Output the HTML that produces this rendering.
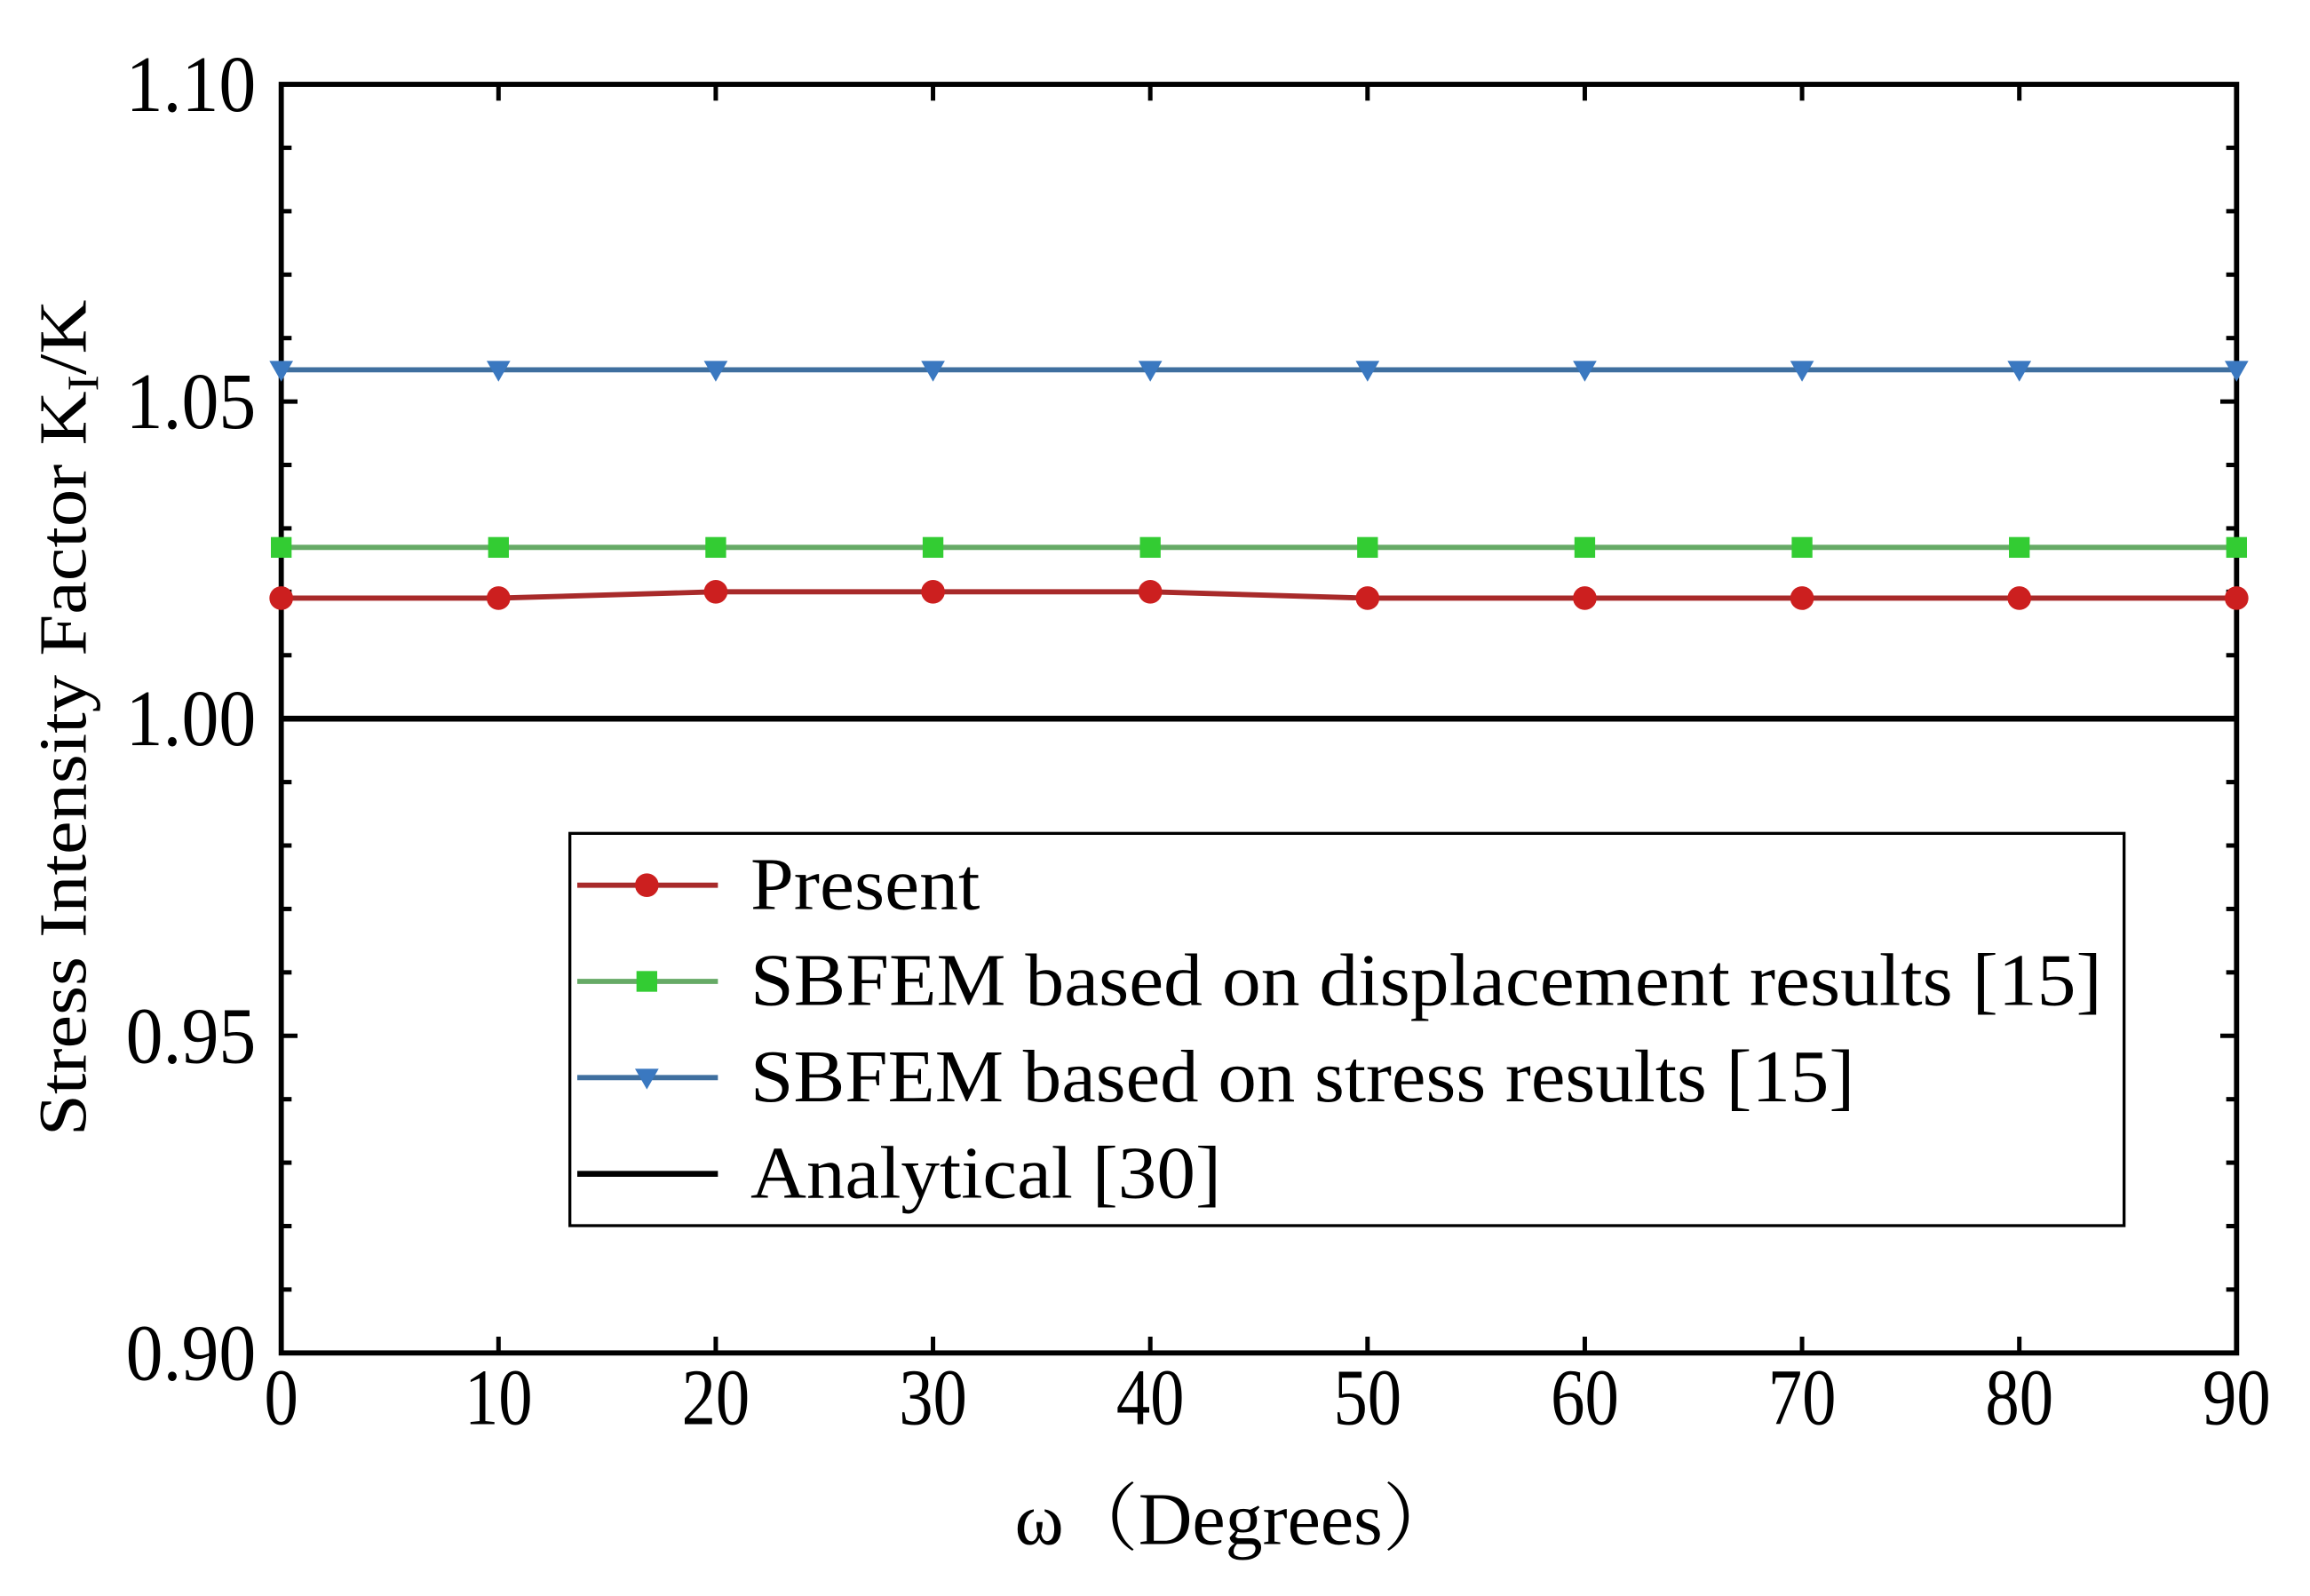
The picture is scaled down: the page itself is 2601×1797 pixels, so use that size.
<!DOCTYPE html>
<html><head><meta charset="utf-8"><style>html,body{margin:0;padding:0;background:#fff}svg{display:block}</style></head>
<body>
<svg id="chart" width="2601" height="1797" viewBox="0 0 1560.6 1078.2" xmlns="http://www.w3.org/2000/svg" font-family="'Liberation Serif', serif">
<rect width="1560.6" height="1078.2" fill="#fff"/>
<g id="plot"></g>
</svg>
<script>
const categories = [0,10,20,30,40,50,60,70,80,90];
const presentValues = [1.019,1.019,1.020,1.020,1.020,1.019,1.019,1.019,1.019,1.019];
const dispValues = [1.027,1.027,1.027,1.027,1.027,1.027,1.027,1.027,1.027,1.027];
const stressValues = [1.055,1.055,1.055,1.055,1.055,1.055,1.055,1.055,1.055,1.055];
const analyticalValues = [1.0,1.0];
const analyticalX = [0,90];
const yTicks = ["0.90","0.95","1.00","1.05","1.10"];
const xTicks = ["0","10","20","30","40","50","60","70","80","90"];

const L=190,R=1511,T=57,B=914;
const xs=v=>L+(v-0)/90*(R-L);
const ys=v=>B-(v-0.9)/0.2*(B-T);
const NS="http://www.w3.org/2000/svg";
const g=document.getElementById('plot');
function mk(tag,attrs,parent){const e=document.createElementNS(NS,tag);for(const k in attrs)e.setAttribute(k,attrs[k]);(parent||g).appendChild(e);return e;}

const frame=mk('rect',{x:L,y:T,width:R-L,height:B-T,fill:'none',stroke:'#000','stroke-width':3.5});



for(let i=0;i<=20;i++){
  const v=0.9+i*0.01, y=ys(v), len=(i%5===0)?11:7;
  const t1=mk('line',{x1:L,x2:L+len,y1:y,y2:y,stroke:'#000','stroke-width':3});
  
  
  const t2=mk('line',{x1:R,x2:R-len,y1:y,y2:y,stroke:'#000','stroke-width':3});
  
  
}
yTicks.forEach(s=>{
  const t=mk('text',{x:173,y:ys(parseFloat(s))+18,'text-anchor':'end','font-size':54,textLength:88,lengthAdjust:'spacingAndGlyphs'});
  t.textContent=s;
  
  
});
xTicks.forEach(s=>{
  const x=xs(parseFloat(s));
  const a=mk('line',{x1:x,x2:x,y1:B,y2:B-11,stroke:'#000','stroke-width':3});
  
  
  const b=mk('line',{x1:x,x2:x,y1:T,y2:T+11,stroke:'#000','stroke-width':3});
  
  
  const t=mk('text',{x:x,y:B+48,'text-anchor':'middle','font-size':54,textLength:s.length*23,lengthAdjust:'spacingAndGlyphs'});
  t.textContent=s;
  
  
});

const an=mk('polyline',{points:analyticalX.map((x,i)=>xs(x)+','+ys(analyticalValues[i])).join(' '),fill:'none',stroke:'#000','stroke-width':4});



function series(vals,color,lineColor,marker,name){
  const pl=mk('polyline',{points:categories.map((c,i)=>xs(c)+','+ys(vals[i])).join(' '),fill:'none',stroke:lineColor,'stroke-width':3.5});
  
  
  categories.forEach((c,i)=>{
    const x=xs(c),y=ys(vals[i]);let m;
    if(marker==='circle')m=mk('circle',{cx:x,cy:y,r:8,fill:color});
    else if(marker==='square')m=mk('rect',{x:x-7,y:y-7,width:14,height:14,fill:color});
    else m=mk('polygon',{points:`${x-8},${y-6} ${x+8},${y-6} ${x},${y+8}`,fill:color});
    
    
  });
}
series(stressValues,'#3a78c0','#3f6f9f','tri','stress-results');
series(dispValues,'#33cc33','#66aa66','square','displacement-results');
series(presentValues,'#cc1f1f','#a82a2a','circle','present');

const lg=mk('g',{});


const box=mk('rect',{x:385,y:563,width:1050,height:265,fill:'#fff',stroke:'#000','stroke-width':2},lg);


const entries=[
 ['Present','#a82a2a','#cc1f1f','circle',155],
 ['SBFEM based on displacement results [15]','#66aa66','#33cc33','square',913],
 ['SBFEM based on stress results [15]','#3f6f9f','#3a78c0','tri',746],
 ['Analytical [30]','#000',null,null,318]
];
entries.forEach((e,i)=>{
  const y=598+i*65;
  const ent=mk('g',{},lg);
  
  
  mk('line',{x1:390,x2:485,y1:y,y2:y,stroke:e[1],'stroke-width':e[3]?3.5:4},ent);
  const x=437;
  if(e[3]==='circle')mk('circle',{cx:x,cy:y,r:8,fill:e[2]},ent);
  else if(e[3]==='square')mk('rect',{x:x-7,y:y-7,width:14,height:14,fill:e[2]},ent);
  else if(e[3]==='tri')mk('polygon',{points:`${x-8},${y-6} ${x+8},${y-6} ${x},${y+8}`,fill:e[2]},ent);
  const t=mk('text',{x:507,y:y+16,'font-size':50,textLength:e[4],lengthAdjust:'spacingAndGlyphs'},ent);
  t.textContent=e[0];
});

const xt=mk('text',{x:835,y:1043,'text-anchor':'middle','font-size':50,'font-family':"'Liberation Serif','Noto Serif CJK SC',serif",textLength:299,lengthAdjust:'spacingAndGlyphs'});
xt.textContent='ω（Degrees）';


const yt=mk('text',{transform:'translate(58,485) rotate(-90)','text-anchor':'middle','font-size':46,textLength:565,lengthAdjust:'spacingAndGlyphs'});
yt.innerHTML='Stress Intensity Factor K<tspan font-size="30" dy="8">I</tspan><tspan dy="-8">/K</tspan>';


</script>
</body></html>
